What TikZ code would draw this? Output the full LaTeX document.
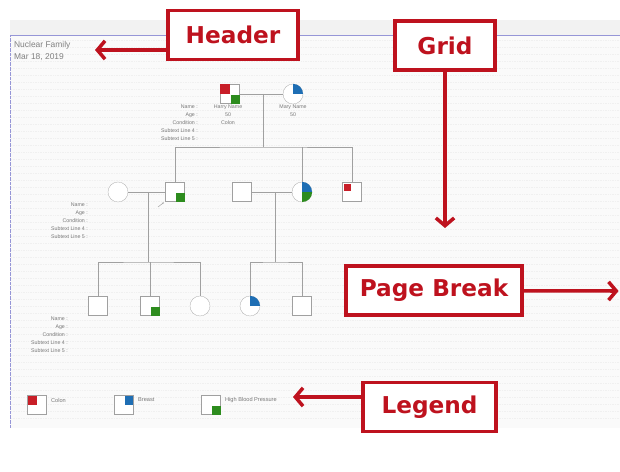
\documentclass[tikz,border=0pt]{standalone}
\usepackage{fontspec}
\newfontfamily\calloutfont{DejaVu Sans}
\newfontfamily\labelfont{Liberation Sans}
\usetikzlibrary{arrows.meta,shapes,positioning}
\definecolor{callred}{RGB}{190,18,30}
\definecolor{pedred}{RGB}{200,30,40}
\definecolor{pedgreen}{RGB}{45,140,30}
\definecolor{pedblue}{RGB}{30,110,180}
\definecolor{pageblue}{RGB}{150,150,215}
\definecolor{pedline}{RGB}{160,160,160}
\definecolor{labgray}{RGB}{120,120,120}

\begin{document}
\begin{tikzpicture}[x=0.05cm,y=-0.05cm,
	male/.style={draw=pedline,rectangle,minimum size=0.95cm,inner sep=0pt,fill=white},
	female/.style={draw=pedline,circle,minimum size=1cm,inner sep=0pt,fill=white},
	info/.style={font=\labelfont\fontsize{7.5}{11.4}\selectfont,text=labgray,inner sep=0pt},
	callout/.style={draw=callred,line width=4.5pt,fill=white,text=callred,
		font=\calloutfont\bfseries\fontsize{33}{36}\selectfont,minimum height=2.45cm},
	pointer/.style={draw=callred,line width=5pt,-{Straight Barb[length=11pt,width=26pt,line width=5pt]}},
	kin/.style={draw=pedline,line width=0.7pt}]

\useasboundingbox (0,0) rectangle (620,472);
\fill[white] (0,0) rectangle (620,472);

% page, header band and grid
\fill[gray!4] (10,35) rectangle (620,428);
\fill[gray!10] (10,20) rectangle (620,35);
\foreach \y in {40,47,...,424}
	\draw[gray!12,dotted] (11,\y) -- (620,\y);
\draw[pageblue,line width=0.8pt] (10,35) -- (620,35);
\draw[pageblue,densely dotted,line width=0.8pt] (10,35) -- (10,428);

% header text
\node[info,font=\labelfont\fontsize{12}{14}\selectfont,text=gray,anchor=west] (title) at (14,45) {Nuclear Family};
\node[info,font=\labelfont\fontsize{12}{14}\selectfont,text=gray,anchor=west] (date) at (14,57) {Mar 18, 2019};

% generation I
\node[male] (1) at (230,94) {};
\node[female] (2) at (293,94) {};
\fill[pedred] (1.north west) rectangle (1.center);
\fill[pedgreen] ([shift={(1pt,-1pt)}]1.center) rectangle ([shift={(1pt,-1pt)}]1.south east);
\fill[pedblue] (2.center) -- (2.north) arc[start angle=90,end angle=0,radius=0.5cm] -- cycle;
\node[info,align=center,anchor=north] (1txt) at (228,105) {Harry Name\\50\\Colon};
\node[info,align=center,anchor=north] (2txt) at (293,105) {Mary Name\\50};
\node[info,align=right,anchor=north east] (lab1) at (198,105) {Name :\\Age :\\Condition :\\Subtext Line 4 :\\Subtext Line 5 :};

% generation II
\node[female] (3) at (118,192) {};
\node[male] (4) at (175,192) {};
\node[male] (5) at (242,192) {};
\node[female] (6) at (302,192) {};
\node[male] (7) at (352,192) {};
\fill[pedgreen] ([shift={(1pt,-1pt)}]4.center) rectangle ([shift={(1pt,-1pt)}]4.south east);
\fill[pedblue] (6.center) -- (6.north) arc[start angle=90,end angle=0,radius=0.5cm] -- cycle;
\fill[pedgreen] (6.center) -- (6.east) arc[start angle=0,end angle=-90,radius=0.5cm] -- cycle;
\fill[pedred] ([shift={(2pt,-2pt)}]7.north west) rectangle ([shift={(-1pt,1pt)}]7.center);
\node[info,align=right,anchor=north east] (lab2) at (88,203) {Name :\\Age :\\Condition :\\Subtext Line 4 :\\Subtext Line 5 :};
\coordinate (proband) at (158,207);
\draw[kin,-{Stealth[length=3pt]}] (proband) -- ([shift={(-2pt,-1pt)}]4.south west);

% generation III
\node[male] (8) at (98,306) {};
\node[male] (9) at (150,306) {};
\node[female] (10) at (200,306) {};
\node[female] (11) at (250,306) {};
\node[male] (12) at (302,306) {};
\fill[pedgreen] ([shift={(1pt,-1pt)}]9.center) rectangle ([shift={(1pt,-1pt)}]9.south east);
\fill[pedblue] (11.center) -- (11.north) arc[start angle=90,end angle=0,radius=0.5cm] -- cycle;
\node[info,align=right,anchor=north east] (lab3) at (68,317) {Name :\\Age :\\Condition :\\Subtext Line 4 :\\Subtext Line 5 :};

% couples and sibships
\coordinate (u1) at (263,94);
\coordinate (u2) at (148,192);
\coordinate (u3) at (275,192);
\coordinate (s1) at (263,147);
\coordinate (s2) at (148,262);
\coordinate (s3) at (275,262);
\draw[kin] (1) -- (2);
\draw[kin] (3) -- (4);
\draw[kin] (5) -- (6);
\draw[kin] (u1) -- (s1);
\draw[kin] (u2) -- (s2);
\draw[kin] (u3) -- (s3);
\draw[kin] (4.north) |- (s1) -| (7.north);
\draw[kin] (6.north) -- (6.north |- s1);
\draw[kin] (8.north) |- (s2) -| (10.north);
\draw[kin] (9.north) -- (9.north |- s2);
\draw[kin] (11.north) |- (s3) -| (12.north);

% legend
\node[male] (l1) at (37,405) {};
\node[male] (l2) at (124,405) {};
\node[male] (l3) at (211,405) {};
\fill[pedred] ([shift={(1pt,-1pt)}]l1.north west) rectangle (l1.center);
\fill[pedblue] ([shift={(1pt,-1pt)}]l2.north) rectangle ([shift={(-1pt,0pt)}]l2.east);
\fill[pedgreen] ([shift={(1pt,-1pt)}]l3.center) rectangle ([shift={(1pt,-1pt)}]l3.south east);
\node[info,font=\labelfont\fontsize{8}{10}\selectfont,anchor=west] (c1) at (51,400) {Colon};
\node[info,font=\labelfont\fontsize{8}{10}\selectfont,anchor=west] (c2) at (138,400) {Breast};
\node[info,font=\labelfont\fontsize{8}{10}\selectfont,anchor=west] (c3) at (225,400) {High Blood Pressure};

% callouts
\node[callout,minimum width=6.5cm] (hdr) at (233,35) {Header};
\node[callout,minimum width=5cm] (grid) at (445,45.5) {Grid};
\node[callout,minimum width=8.8cm] (pbreak) at (434,290.5) {Page Break};
\node[callout,minimum width=6.65cm] (legend) at (429.5,407) {Legend};
\coordinate (hdrtip) at (95,50);
\coordinate (gridtip) at (445,228);
\coordinate (pbtip) at (620,291);
\coordinate (legtip) at (293,397);
\draw[pointer] ([yshift=-0.75cm]hdr.west) -- (hdrtip);
\draw[pointer] (grid.south) -- (gridtip);
\draw[pointer] ([yshift=-0.02cm]pbreak.east) -- ([xshift=-2pt]pbtip);
\draw[pointer] ([yshift=0.5cm]legend.west) -- (legtip);
\end{tikzpicture}
\end{document}
